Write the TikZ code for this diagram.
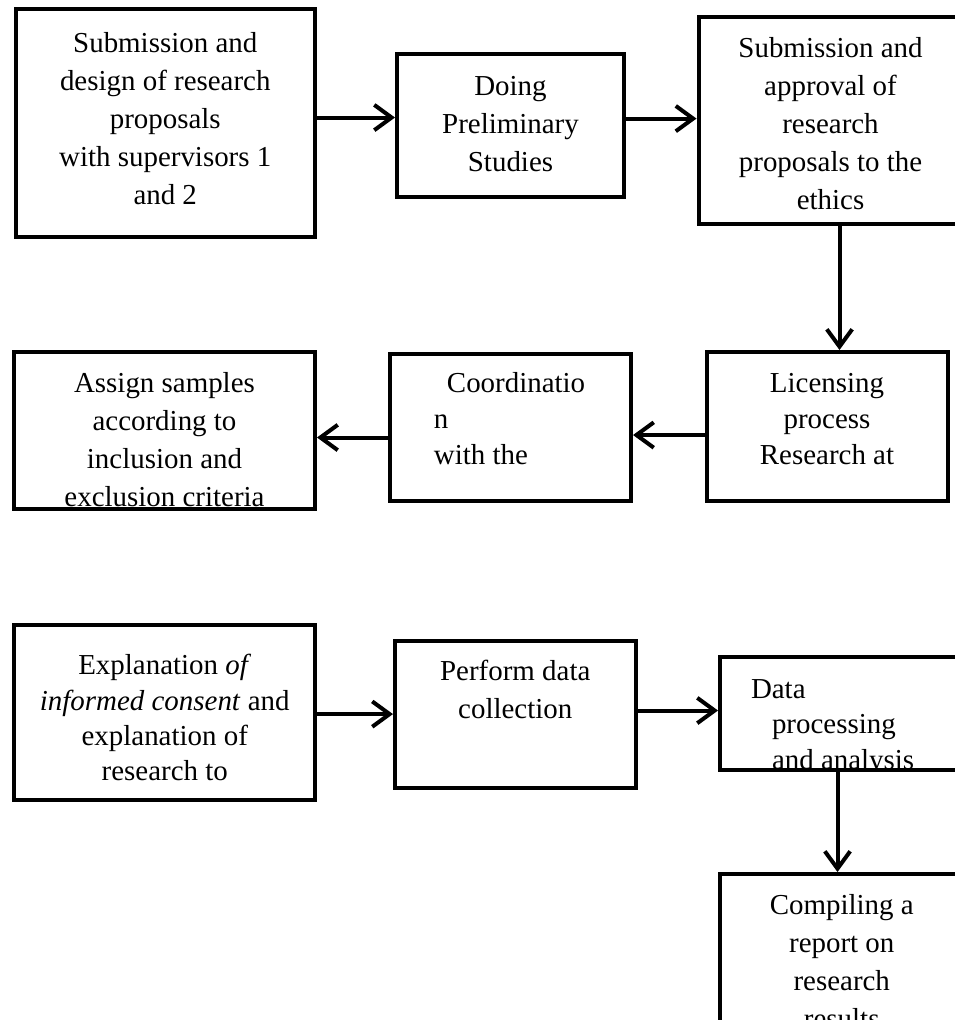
\documentclass[tikz,border=0pt]{standalone}
\usepackage{fontspec}
\setmainfont{Liberation Serif}
\usetikzlibrary{arrows.meta}

\begin{document}
\begin{tikzpicture}[
  x=0.75pt, y=-0.75pt,
  stage/.style={rectangle, draw, line width=3pt, inner sep=0pt},
  txt/.style={inner sep=0pt, minimum width=0pt, minimum height=0pt, align=center,
    font=\fontsize{21.7pt}{28.5pt}\selectfont},
  flow/.style={-{Straight Barb[length=13pt,width=19pt]}, line width=3pt}
]
\useasboundingbox (0,0) rectangle (955,1020);
\clip (0,0) rectangle (955,1020);

% Top row: proposal, preliminary studies, ethics
\node[stage, minimum width=224.6pt, minimum height=171pt, path picture={
  \node[txt, anchor=north] at ([yshift=-16.1pt]path picture bounding box.north)
    {Submission and\\design of research\\proposals\\with supervisors 1\\and 2};}]
  (propose) at (165.25,123) {};
\node[stage, minimum width=170.25pt, minimum height=106.9pt, path picture={
  \node[txt, anchor=north] at ([yshift=-15.4pt]path picture bounding box.north)
    {Doing\\Preliminary\\Studies};}]
  (prelim) at (510.5,125.25) {};
\node[stage, minimum width=198pt, minimum height=155.25pt, path picture={
  \node[txt, anchor=north] at ([yshift=-13.9pt]path picture bounding box.north)
    {Submission and\\approval of\\research\\proposals to the\\ethics};}]
  (ethics) at (830.5,120.5) {};

% Middle row: licensing, coordination, samples
\node[stage, minimum width=180.75pt, minimum height=111.75pt, path picture={
  \node[txt, anchor=north, font=\fontsize{21.7pt}{27pt}\selectfont]
    at ([yshift=-14.6pt]path picture bounding box.north)
    {Licensing\\process\\Research at};}]
  (licence) at (827,426.5) {};
\node[stage, minimum width=180.4pt, minimum height=110.25pt, path picture={
  \node[txt, anchor=north west, align=left, font=\fontsize{21.7pt}{27pt}\selectfont]
    at ([xshift=31.1pt, yshift=-12.4pt]path picture bounding box.north west)
    {\hspace*{9.75pt}Coordinatio\\n\\with the};}]
  (coord) at (510.75,427.5) {};
\node[stage, minimum width=225.75pt, minimum height=118.1pt, path picture={
  \node[txt, anchor=north] at ([yshift=-14.25pt]path picture bounding box.north)
    {Assign samples\\according to\\inclusion and\\exclusion criteria};}]
  (sample) at (164.5,430.25) {};

% Bottom row: consent, collection, analysis, report
\node[stage, minimum width=225.4pt, minimum height=131.6pt, path picture={
  \node[txt, anchor=north, font=\fontsize{21.7pt}{26.5pt}\selectfont]
    at ([yshift=-20.6pt]path picture bounding box.north)
    {Explanation \textit{of}\\\textit{informed consent} and\\explanation of\\research to};}]
  (consent) at (164.75,712.75) {};
\node[stage, minimum width=180.4pt, minimum height=110.6pt, path picture={
  \node[txt, anchor=north] at ([yshift=-13.5pt]path picture bounding box.north)
    {Perform data\\collection};}]
  (collect) at (515.25,714.25) {};
\node[stage, minimum width=183.75pt, minimum height=85.1pt, path picture={
  \node[txt, anchor=north west, align=left, font=\fontsize{21.7pt}{26.5pt}\selectfont]
    at ([xshift=21.75pt, yshift=-15.75pt]path picture bounding box.north west)
    {Data\\\hspace*{15.75pt}processing\\\hspace*{15.75pt}and analysis};}]
  (analysis) at (842.5,713.25) {};
\node[stage, minimum width=181.9pt, minimum height=139.5pt, path picture={
  \node[txt, anchor=north] at ([yshift=-13.9pt]path picture bounding box.north)
    {Compiling a\\report on\\research\\results};}]
  (report) at (841.75,967) {};

\draw[flow] ([yshift=4.1pt]propose.east) -- ([yshift=4.1pt]propose.east -| prelim.west);
\draw[flow] ([yshift=5pt]prelim.east) -- ([yshift=5pt]prelim.east -| ethics.west);
\draw[flow] ([xshift=6.75pt]ethics.south) -- ([xshift=6.75pt]ethics.south |- licence.north);
\draw[flow] ([yshift=-6.4pt]licence.west) -- ([yshift=-6.4pt]licence.west -| coord.east);
\draw[flow] ([yshift=-7.5pt]coord.west) -- ([yshift=-7.5pt]coord.west -| sample.east);
\draw[flow] ([yshift=-1pt]consent.east) -- ([yshift=-1pt]consent.east -| collect.west);
\draw[flow] ([yshift=2.8pt]collect.east) -- ([yshift=2.8pt]collect.east -| analysis.west);
\draw[flow] ([xshift=-3.75pt]analysis.south) -- ([xshift=-3.75pt]analysis.south |- report.north);
\end{tikzpicture}
\end{document}
